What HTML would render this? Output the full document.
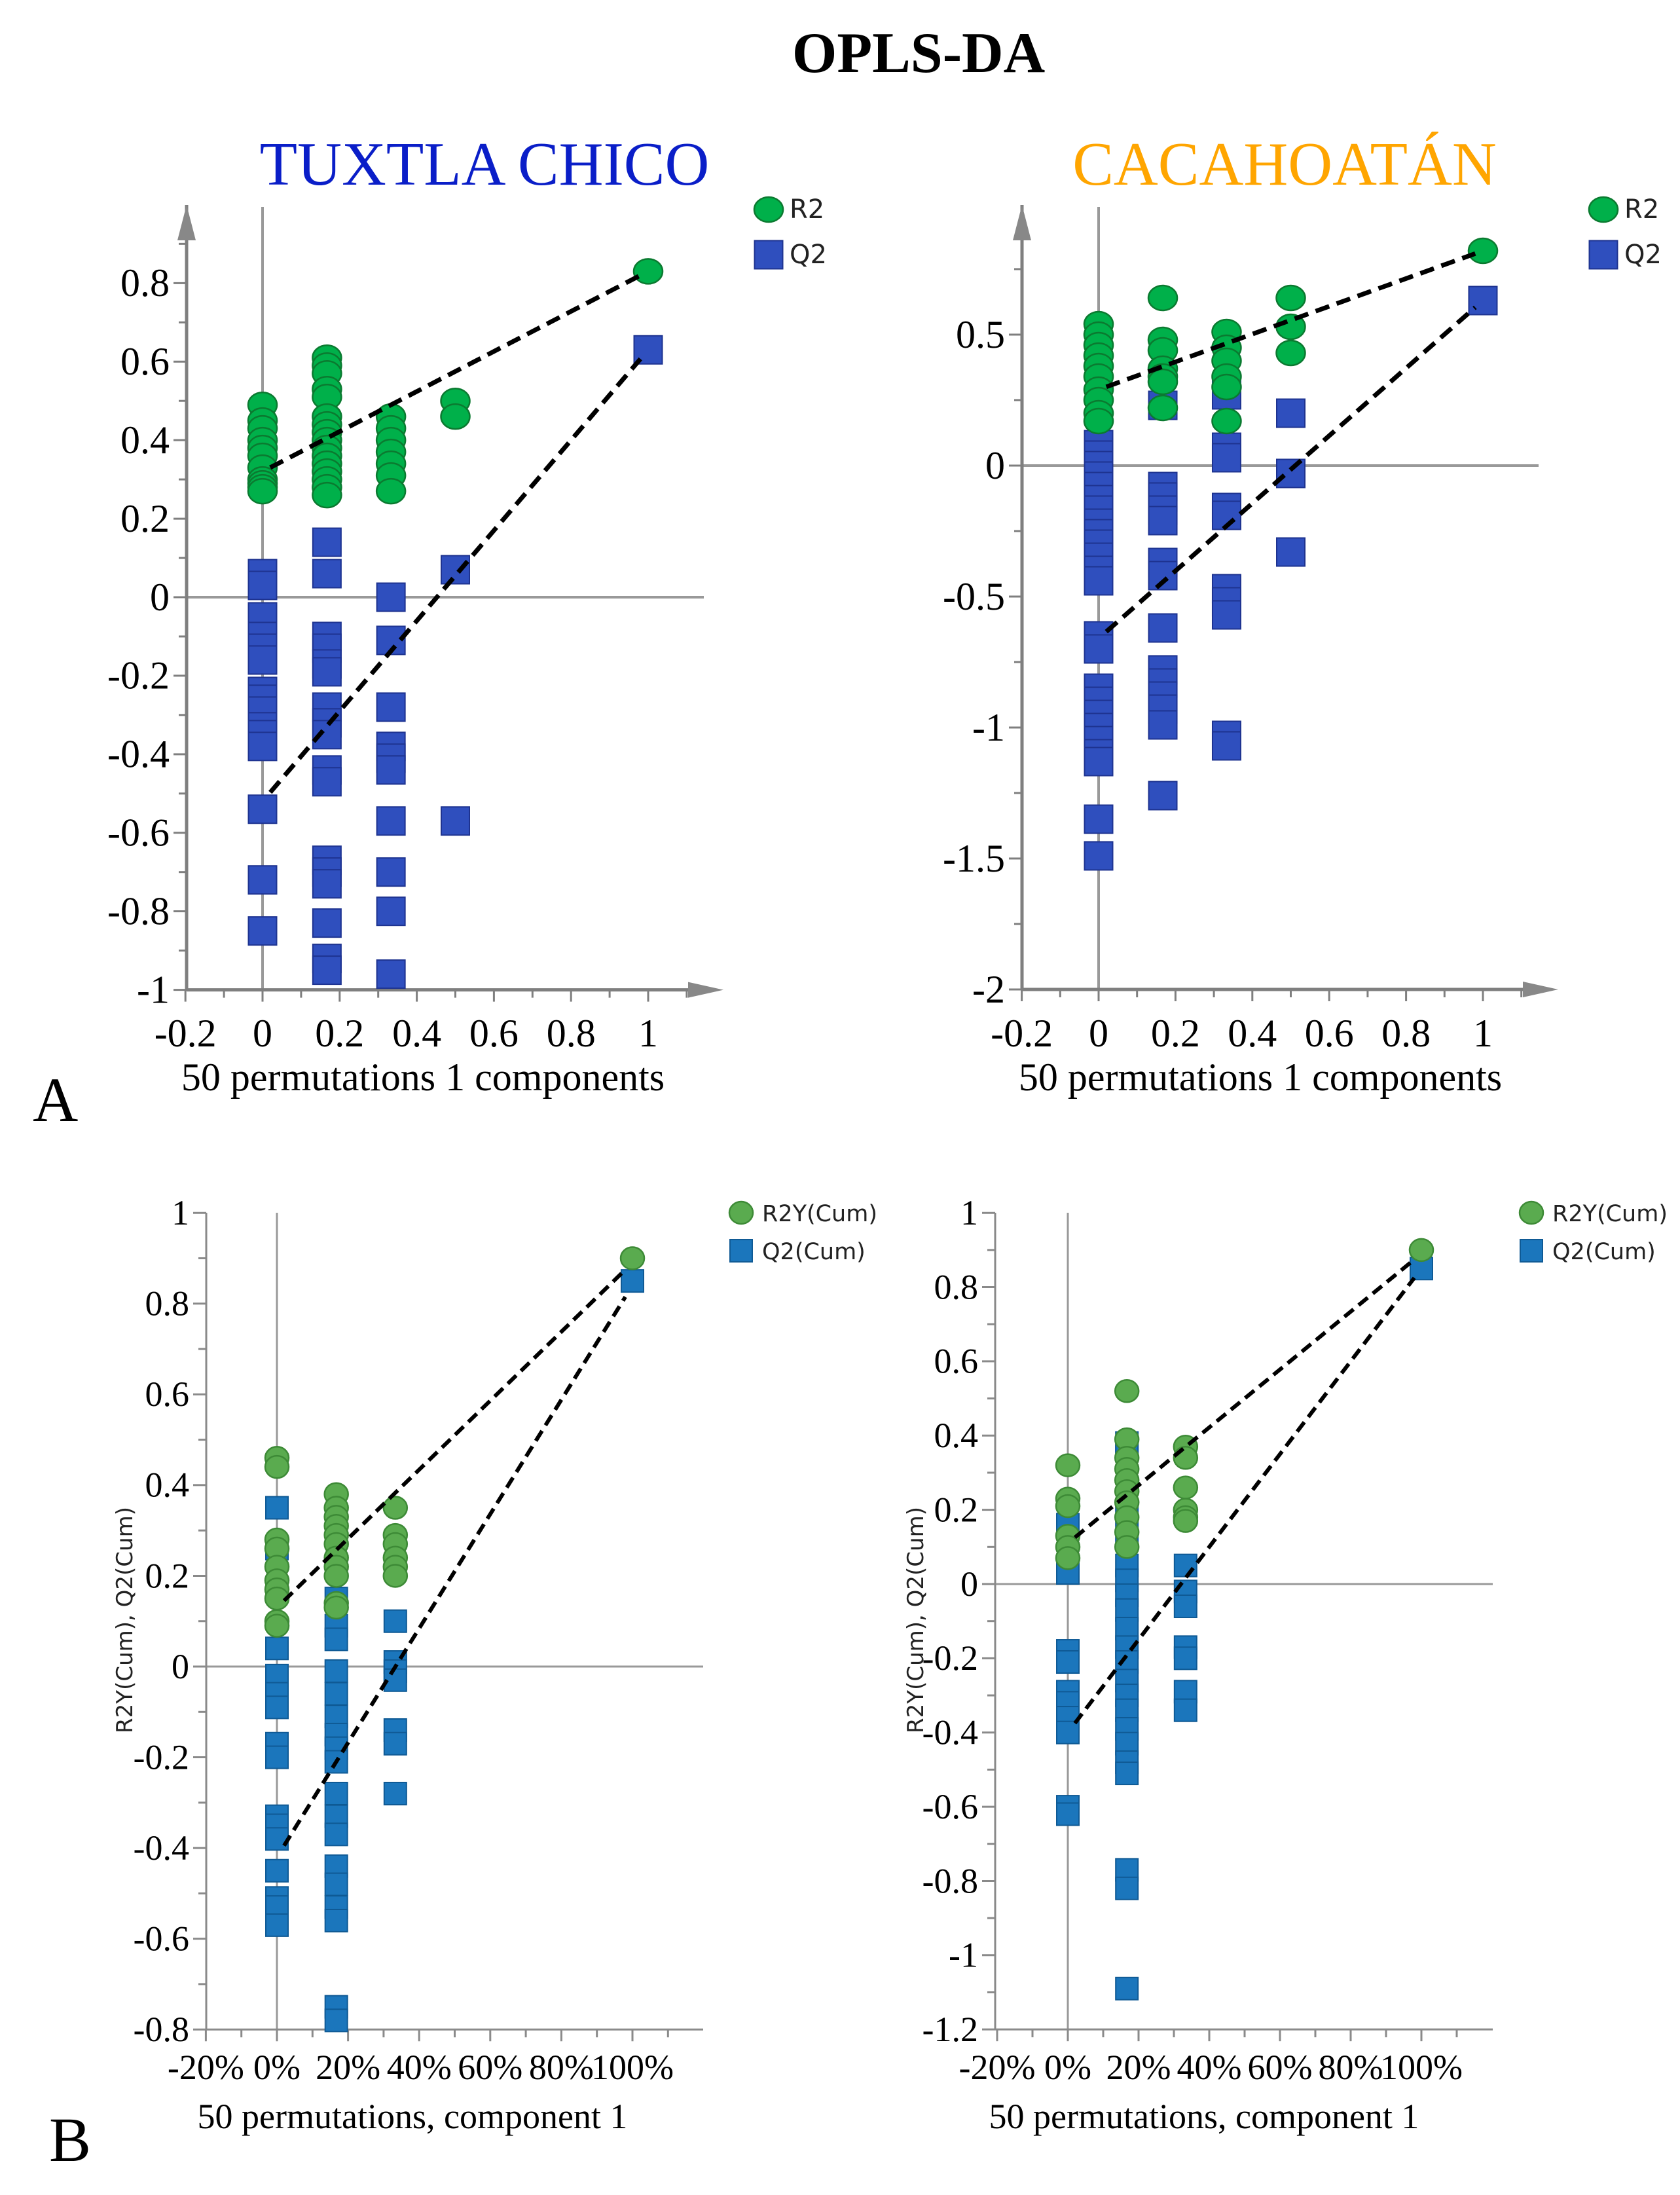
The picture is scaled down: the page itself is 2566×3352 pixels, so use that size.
<!DOCTYPE html>
<html><head><meta charset="utf-8"><style>
html,body{margin:0;padding:0;background:#fff}
svg{display:block}
</style></head><body>
<svg id="fig" xmlns="http://www.w3.org/2000/svg" width="2566" height="3352" viewBox="0 0 2566 3352" font-family="Liberation Serif, serif">
<rect width="2566" height="3352" fill="#fff"/>
<text x="1403" y="110" font-size="88" font-weight="bold" text-anchor="middle">OPLS-DA</text>
<text x="740" y="282" font-size="94" fill="#0a1ec8" text-anchor="middle">TUXTLA CHICO</text>
<text x="1962" y="282" font-size="94" fill="#ffa500" text-anchor="middle">CACAHOATÁN</text>
<text x="50" y="1712" font-size="96">A</text>
<text x="75" y="3300" font-size="96">B</text>
<g id="panels"></g>
</svg>
<script>
// Top-left (Tuxtla Chico, A)
const tlCats = [0, 0.167, 0.333, 0.5, 1];
const tlR2 = [[0.49,0.45,0.43,0.40,0.38,0.36,0.33,0.30,0.29,0.28,0.27],[0.61,0.59,0.57,0.53,0.51,0.46,0.44,0.42,0.40,0.38,0.36,0.34,0.32,0.30,0.28,0.26],[0.46,0.43,0.40,0.37,0.34,0.31,0.27],[0.50,0.46],[0.83]];
const tlQ2 = [[0.06,0.03,-0.05,-0.10,-0.13,-0.16,-0.24,-0.26,-0.29,-0.33,-0.35,-0.38,-0.54,-0.72,-0.85],[0.14,0.06,-0.10,-0.13,-0.17,-0.19,-0.28,-0.32,-0.35,-0.44,-0.47,-0.67,-0.70,-0.73,-0.83,-0.92,-0.95],[0,-0.11,-0.28,-0.38,-0.41,-0.44,-0.57,-0.70,-0.80,-0.96],[0.07,-0.57],[0.63]];
const tlR2Line = [0.32, 0.83];
const tlQ2Line = [-0.52, 0.63];
const tlYTicks = ["-1","-0.8","-0.6","-0.4","-0.2","0","0.2","0.4","0.6","0.8"];
const tlXTicks = ["-0.2","0","0.2","0.4","0.6","0.8","1"];
// Top-right (Cacahoatán, A)
const trCats = [0, 0.167, 0.333, 0.5, 1];
const trR2 = [[0.54,0.50,0.46,0.42,0.38,0.34,0.29,0.25,0.20,0.17],[0.64,0.48,0.44,0.37,0.34,0.32,0.22],[0.51,0.45,0.40,0.34,0.30,0.17],[0.64,0.53,0.43],[0.82]];
const trQ2 = [[0.08,0.04,0,-0.04,-0.08,-0.13,-0.17,-0.22,-0.26,-0.30,-0.35,-0.40,-0.44,-0.65,-0.70,-0.85,-0.90,-0.95,-1.00,-1.05,-1.10,-1.13,-1.35,-1.49],[0.23,-0.08,-0.12,-0.17,-0.21,-0.37,-0.42,-0.62,-0.78,-0.83,-0.88,-0.93,-0.99,-1.26],[0.27,0.07,0.03,-0.16,-0.19,-0.47,-0.52,-0.57,-1.03,-1.07],[0.20,-0.03,-0.33],[0.63]];
const trR2Line = [0.29, 0.82];
const trQ2Line = [-0.66, 0.63];
const trYTicks = ["-2","-1.5","-1","-0.5","0","0.5"];
const trXTicks = ["-0.2","0","0.2","0.4","0.6","0.8","1"];
// Bottom-left (B)
const blCats = [0, 0.167, 0.333, 1];
const blR2 = [[0.46,0.44,0.28,0.26,0.22,0.19,0.17,0.15,0.10,0.09],[0.38,0.35,0.33,0.31,0.29,0.27,0.24,0.22,0.20,0.14,0.13],[0.35,0.29,0.27,0.24,0.22,0.20],[0.90]];
const blQ2 = [[0.35,0.26,0.04,-0.02,-0.06,-0.09,-0.17,-0.20,-0.33,-0.35,-0.38,-0.45,-0.51,-0.53,-0.57],[0.15,0.09,0.06,-0.01,-0.06,-0.11,-0.15,-0.18,-0.21,-0.28,-0.33,-0.37,-0.44,-0.48,-0.53,-0.56,-0.75,-0.78],[0.10,0.01,-0.01,-0.03,-0.14,-0.17,-0.28],[0.85]];
const blR2Line = [0.13, 0.89];
const blQ2Line = [-0.42, 0.84];
const blYTicks = ["-0.8","-0.6","-0.4","-0.2","0","0.2","0.4","0.6","0.8","1"];
const blXTicks = ["-20%","0%","20%","40%","60%","80%","100%"];
// Bottom-right (B)
const brCats = [0, 0.167, 0.333, 1];
const brR2 = [[0.32,0.23,0.21,0.13,0.10,0.07],[0.52,0.39,0.34,0.31,0.28,0.25,0.22,0.18,0.14,0.10],[0.37,0.34,0.26,0.20,0.18,0.17],[0.90]];
const brQ2 = [[0.16,0.03,-0.18,-0.21,-0.29,-0.32,-0.36,-0.40,-0.60,-0.62],[0.38,0.36,0.20,0.14,0.05,0.01,-0.03,-0.07,-0.12,-0.17,-0.21,-0.26,-0.30,-0.34,-0.39,-0.43,-0.48,-0.51,-0.77,-0.82,-1.09],[0.05,-0.02,-0.06,-0.17,-0.20,-0.29,-0.34],[0.85]];
const brR2Line = [0.11, 0.89];
const brQ2Line = [-0.40, 0.85];
const brYTicks = ["-1.2","-1","-0.8","-0.6","-0.4","-0.2","0","0.2","0.4","0.6","0.8","1"];
const brXTicks = ["-20%","0%","20%","40%","60%","80%","100%"];

const NS='http://www.w3.org/2000/svg';
const root=document.getElementById('panels');
function mk(tag,attrs,parent){const e=document.createElementNS(NS,tag);for(const k in attrs)e.setAttribute(k,attrs[k]);(parent||root).appendChild(e);return e;}

function panel(c){
  const g=mk('g',{});
  
  
  const X=v=>c.x0+v*c.kx, Y=v=>c.y0-v*c.ky;
  const axc=c.top?'#7f7f7f':'#8a8a8a', aw=c.top?5:3;
  const yb=Y(c.yMin);
  const zv=mk('line',{x1:X(0),x2:X(0),y1:c.zTop,y2:yb,stroke:'#999',"stroke-width":c.top?4:3},g);
  
  
  const zh=mk('line',{x1:c.ax,x2:c.xEnd-(c.top?30:0),y1:Y(0),y2:Y(0),stroke:'#999',"stroke-width":c.top?4:3},g);
  
  
  const ya=mk('line',{x1:c.ax,x2:c.ax,y1:c.axTop,y2:yb,stroke:axc,"stroke-width":aw},g);
  
  
  const xa=mk('line',{x1:c.ax,x2:c.xEnd-(c.top?30:0),y1:yb,y2:yb,stroke:axc,"stroke-width":aw},g);
  
  
  if(c.top){
    const a1=mk('polygon',{points:`${c.ax-14},${c.axTop+54} ${c.ax+14},${c.axTop+54} ${c.ax},${c.axTop}`,fill:'#888'},g);
    
    
    const a2=mk('polygon',{points:`${c.xEnd-54},${yb-12} ${c.xEnd-54},${yb+12} ${c.xEnd},${yb}`,fill:'#888'},g);
    
    
  }
  for(let v=c.yMin;v<=c.yMaxTick+1e-9;v+=c.yMinor){
    const major=Math.abs(Math.round(v/c.yMajor)*c.yMajor-v)<1e-6;
    mk('line',{x1:c.ax-(major?20:12),x2:c.ax,y1:Y(v),y2:Y(v),stroke:axc,"stroke-width":3},g);
  }
  c.yLabels.forEach((t,i)=>{
    const v=c.yMin+i*c.yMajor;
    const tx=mk('text',{x:c.ax-26,y:Y(v)+c.fs*0.33,"font-size":c.fs,"text-anchor":"end"},g);
    
    
    tx.textContent=t;
  });
  for(let v=-0.2;v<=1.1+1e-9;v+=0.1){
    mk('line',{x1:X(v),x2:X(v),y1:yb,y2:yb+(Math.abs(Math.round(v*5)/5-v)<1e-6?18:12),stroke:axc,"stroke-width":3},g);
  }
  c.xLabels.forEach((t,i)=>{
    const v=-0.2+i*0.2;
    const tx=mk('text',{x:X(v),y:c.xlY,"font-size":c.fs,"text-anchor":"middle"},g);
    
    
    tx.textContent=t;
  });
  const xt=mk('text',{x:c.xtX,y:c.xtY,"font-size":c.fs,"text-anchor":"middle"},g);
  
  
  xt.textContent=c.xTitle;
  if(c.yTitle){
    const yt=mk('text',{x:0,y:0,"font-size":34,"font-family":"DejaVu Sans, sans-serif","text-anchor":"middle",transform:`translate(${c.ytX},${c.ytY}) rotate(-90)`,fill:'#222'},g);
    
    
    yt.textContent=c.yTitle;
  }
  const cr=c.top?[22,19]:[18,17], sq=c.top?43:34;
  c.q2.forEach((arr,i)=>arr.forEach(v=>{
    const r=mk('rect',{x:X(c.cats[i])-sq/2,y:Y(v)-sq/2,width:sq,height:sq,fill:c.qc,stroke:c.qs,"stroke-width":2},g);
    
    
  }));
  c.r2.forEach((arr,i)=>arr.forEach(v=>{
    const e=mk('ellipse',{cx:X(c.cats[i]),cy:Y(v),rx:cr[0],ry:cr[1],fill:c.rc,stroke:c.rs,"stroke-width":2.5},g);
    
    
  }));
  [[c.rLine,'r2-regression-line'],[c.qLine,'q2-regression-line']].forEach(([L,n])=>{
    const f=t=>L[0]+(L[1]-L[0])*t;
    const l=mk('line',{x1:X(0.02),y1:Y(f(0.02)),x2:X(0.98),y2:Y(f(0.98)),stroke:'#000',"stroke-width":c.top?7:6,"stroke-dasharray":c.top?"22,12":"18,10"},g);
    
    
  });
  const lg=mk('g',{},g);
  
  
  const le=mk('ellipse',{cx:c.lgX,cy:c.lgY,rx:cr[0],ry:cr[1],fill:c.rc,stroke:c.rs,"stroke-width":2.5},lg);
  
  
  const lr=mk('rect',{x:c.lgX-sq/2,y:c.lgY+c.lgGap-sq/2,width:sq,height:sq,fill:c.qc,stroke:c.qs,"stroke-width":2},lg);
  
  
  [[c.lgR,0],[c.lgQ,c.lgGap]].forEach(([t,dy])=>{
    const tx=mk('text',{x:c.lgX+32,y:c.lgY+dy+13,"font-size":c.top?40:35,"font-family":"DejaVu Sans, sans-serif",fill:'#222'},lg);
    
    
    tx.textContent=t;
  });
}

const topCol={qc:'#2f4fbe',qs:'#1e3390',rc:'#00b04a',rs:'#0b7a30'};
const botCol={qc:'#1b76bc',qs:'#0f5a95',rc:'#5aab4f',rs:'#3d8a36'};
panel(Object.assign({name:'tuxtla-chico-opls-plot',top:true,ax:285,axTop:313,zTop:316,x0:401,kx:589,y0:912,ky:599.6,yMin:-1,yMaxTick:0.9,yMinor:0.1,yMajor:0.2,yLabels:tlYTicks,xLabels:tlXTicks,xEnd:1105,fs:60,xlY:1598,xTitle:'50 permutations 1 components',xtX:646,xtY:1665,cats:tlCats,r2:tlR2,q2:tlQ2,rLine:tlR2Line,qLine:tlQ2Line,lgX:1174,lgY:320,lgGap:69,lgR:'R2',lgQ:'Q2'},topCol));
panel(Object.assign({name:'cacahoatan-opls-plot',top:true,ax:1561,axTop:313,zTop:316,x0:1678,kx:587,y0:711,ky:400,yMin:-2,yMaxTick:0.76,yMinor:0.25,yMajor:0.5,yLabels:trYTicks,xLabels:trXTicks,xEnd:2380,fs:60,xlY:1598,xTitle:'50 permutations 1 components',xtX:1925,xtY:1665,cats:trCats,r2:trR2,q2:trQ2,rLine:trR2Line,qLine:trQ2Line,lgX:2449,lgY:320,lgGap:69,lgR:'R2',lgQ:'Q2'},topCol));
panel(Object.assign({name:'tuxtla-chico-permutation-plot',top:false,ax:315,axTop:1852,zTop:1852,x0:423,kx:543,y0:2545,ky:692.8,yMin:-0.8,yMaxTick:1.0,yMinor:0.1,yMajor:0.2,yLabels:blYTicks,xLabels:blXTicks,xEnd:1074,fs:54,xlY:3175,xTitle:'50 permutations, component 1',xtX:630,xtY:3250,yTitle:'R2Y(Cum), Q2(Cum)',ytX:202,ytY:2474,cats:blCats,r2:blR2,q2:blQ2,rLine:blR2Line,qLine:blQ2Line,lgX:1132,lgY:1852,lgGap:58,lgR:'R2Y(Cum)',lgQ:'Q2(Cum)'},botCol));
panel(Object.assign({name:'cacahoatan-permutation-plot',top:false,ax:1520,axTop:1852,zTop:1852,x0:1631,kx:540,y0:2419,ky:566.8,yMin:-1.2,yMaxTick:1.0,yMinor:0.1,yMajor:0.2,yLabels:brYTicks,xLabels:brXTicks,xEnd:2280,fs:54,xlY:3175,xTitle:'50 permutations, component 1',xtX:1839,xtY:3250,yTitle:'R2Y(Cum), Q2(Cum)',ytX:1410,ytY:2474,cats:brCats,r2:brR2,q2:brQ2,rLine:brR2Line,qLine:brQ2Line,lgX:2339,lgY:1852,lgGap:58,lgR:'R2Y(Cum)',lgQ:'Q2(Cum)'},botCol));
</script>
</body></html>
